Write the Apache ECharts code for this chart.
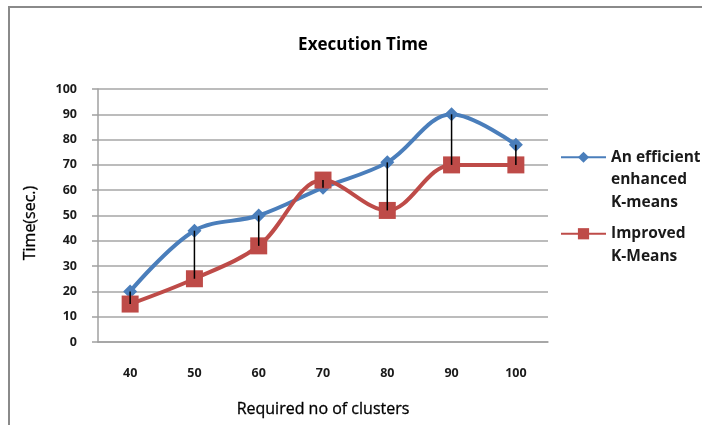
<!DOCTYPE html>
<html>
<head>
<meta charset="utf-8">
<script src="https://cdn.jsdelivr.net/npm/echarts@6/dist/echarts.min.js"></script>
<style>
  html, body { margin: 0; padding: 0; background: #fff; }
  #chart { width: 702px; height: 425px; }
  #frame { position: absolute; left: 8px; top: 6px; right: -4px; bottom: -4px; border: 2px solid #8a8a8a; pointer-events: none; }
</style>
</head>
<body>
<div id="chart"></div>
<div id="frame"></div>
<script>
// Execution time per cluster count for the two K-means variants
const clusters = ['40', '50', '60', '70', '80', '90', '100'];
const efficientKMeans = [20, 44, 50, 61, 71, 90, 78];
const improvedKMeans = [15, 25, 38, 64, 52, 70, 70];
const yTicks = { min: 0, max: 100, step: 10 };

const nameA = 'An efficient enhanced K-means';
const nameB = 'Improved K-Means';
const legendText = {};
legendText[nameA] = '\n\nAn efficient\nenhanced\nK-means';
legendText[nameB] = '\nImproved\nK-Means';

const font = '"Open Sans", sans-serif';
const chart = echarts.init(document.getElementById('chart'));

// high-low connectors between the two series at each category
const spans = clusters.map((c, i) => [i, efficientKMeans[i], improvedKMeans[i]]);

const legendBase = {
  orient: 'vertical',
  left: 560,
  padding: 0,
  itemWidth: 45,
  itemHeight: 14,
  itemGap: 5,
  formatter: n => legendText[n],
  textStyle: { fontFamily: font, fontSize: 15.5, fontWeight: 'bold', color: '#1a1a1a', lineHeight: 22.5 }
};

chart.setOption({
  animation: false,
  title: {
    text: 'Execution Time',
    left: 358,
    textAlign: 'center',
    top: 32,
    textStyle: { fontFamily: font, fontSize: 17, fontWeight: 'bold', color: '#000' }
  },
  legend: [
    Object.assign({}, legendBase, { top: 101, data: [nameA] }),
    Object.assign({}, legendBase, { top: 200, data: [nameB] })
  ],
  grid: { left: 98, right: 154, top: 89, bottom: 83 },
  xAxis: {
    type: 'category',
    data: clusters,
    boundaryGap: true,
    name: 'Required no of clusters',
    nameLocation: 'middle',
    nameGap: 59,
    nameTextStyle: { fontFamily: font, fontSize: 16, color: '#000', textBorderColor: '#000', textBorderWidth: 0.3 },
    axisLine: { lineStyle: { color: '#a0a0a0', width: 1.5 } },
    axisTick: { show: false },
    axisLabel: { margin: 25, fontFamily: font, fontSize: 12.5, fontWeight: 'bold', color: '#1a1a1a' }
  },
  yAxis: {
    type: 'value',
    min: yTicks.min,
    max: yTicks.max,
    interval: yTicks.step,
    name: 'Time(sec.)',
    nameLocation: 'middle',
    nameGap: 60,
    nameTextStyle: { fontFamily: font, fontSize: 16, color: '#000', padding: [0, 15, 0, 0], textBorderColor: '#000', textBorderWidth: 0.3 },
    axisLine: { show: true, lineStyle: { color: '#a0a0a0', width: 1.5 } },
    axisTick: { show: true, length: 6, lineStyle: { color: '#a0a0a0', width: 1.5 } },
    axisLabel: { margin: 21, fontFamily: font, fontSize: 12.5, fontWeight: 'bold', color: '#1a1a1a' },
    splitLine: { lineStyle: { color: '#a6a6a6', width: 1.5 } }
  },
  series: [
    {
      name: nameA,
      type: 'line',
      data: efficientKMeans,
      smooth: 0.35,
      symbol: 'diamond',
      symbolSize: 14,
      lineStyle: { color: '#4a7ebb', width: 4 },
      itemStyle: { color: '#4a7ebb' },
      z: 2
    },
    {
      name: nameB,
      type: 'line',
      data: improvedKMeans,
      smooth: 0.35,
      symbol: 'rect',
      symbolSize: 17,
      lineStyle: { color: '#be4b48', width: 4 },
      itemStyle: { color: '#be4b48' },
      z: 3
    },
    {
      type: 'custom',
      data: spans,
      z: 5,
      silent: true,
      renderItem: (params, api) => {
        const p1 = api.coord([api.value(0), api.value(1)]);
        const p2 = api.coord([api.value(0), api.value(2)]);
        return {
          type: 'line',
          shape: { x1: p1[0], y1: p1[1], x2: p2[0], y2: p2[1] },
          style: { stroke: '#000', lineWidth: 1.5 }
        };
      }
    }
  ]
});
</script>
</body>
</html>
